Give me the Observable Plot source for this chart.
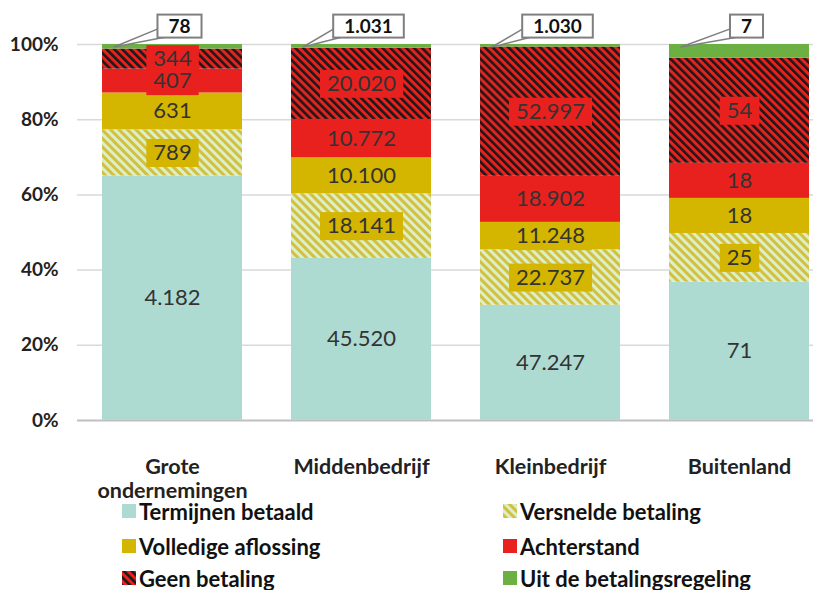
<!DOCTYPE html>
<html><head><meta charset="utf-8">
<script src="https://cdn.jsdelivr.net/npm/d3@7"></script>
<script src="https://cdn.jsdelivr.net/npm/@observablehq/plot@0.6"></script>
<style>
body{margin:0;background:#fff;font-family:Lato,"Open Sans",sans-serif;}
#wrap{position:relative;width:813px;height:590px;overflow:hidden;background:#fff}
.li{position:absolute;display:flex;align-items:center;font-weight:bold;font-size:22px;color:#111;white-space:nowrap;height:30px}
.li svg{margin-right:3px}
</style></head><body>
<svg width="0" height="0" style="position:absolute">
  <defs>
    <pattern id="patGeen" width="5.6" height="5.6" patternUnits="userSpaceOnUse" patternTransform="rotate(-45)">
      <rect width="5.6" height="5.6" fill="#e8211e"></rect>
      <rect width="2.6" height="5.6" fill="#1a1a1a"></rect>
    </pattern>
    <pattern id="patVers" width="6" height="6" patternUnits="userSpaceOnUse" patternTransform="rotate(-45)">
      <rect width="6" height="6" fill="#d3c040"></rect>
      <rect width="3" height="6" fill="#dcefc6"></rect>
    </pattern>
  </defs>
</svg>
<div id="wrap"></div>
<script>
const categories = ["Grote ondernemingen", "Middenbedrijf", "Kleinbedrijf", "Buitenland"];
const series = ["Termijnen betaald", "Versnelde betaling", "Volledige aflossing", "Achterstand", "Geen betaling", "Uit de betalingsregeling"];
const termijnen   = [4182, 45520, 47247, 71];
const versnelde   = [789, 18141, 22737, 25];
const volledige   = [631, 10100, 11248, 18];
const achterstand = [407, 10772, 18902, 18];
const geen        = [344, 20020, 52997, 54];
const uit         = [78, 1031, 1030, 7];
const yTicks = [0, 0.2, 0.4, 0.6, 0.8, 1];

const seriesValues = [termijnen, versnelde, volledige, achterstand, geen, uit];
const fills = ["#aedbd1", "url(#patVers)", "#d4b500", "#e8211e", "url(#patGeen)", "#6cb043"];
const boxFills = ["#aedbd1", "#d4b500", "#d4b500", "#e8211e", "#e8211e", "#6cb043"];

const data = [];
categories.forEach((c, ci) => series.forEach((s, si) => data.push({cat: c, series: s, value: seriesValues[si][ci]})));

const nl = d3.formatLocale({decimal: ",", thousands: ".", grouping: [3], currency: ["€", ""]});
const fmt = nl.format(",d");
const UIT = series[5];

const plot = Plot.plot({
  width: 813, height: 500,
  marginTop: 44, marginBottom: 80, marginLeft: 77, marginRight: 0,
  style: {fontFamily: "Lato, 'Open Sans', sans-serif", background: "#fff", overflow: "visible"},
  x: {type: "band", domain: categories, paddingInner: 0.26, paddingOuter: 0.077, align: 0.86},
  y: {domain: [0, 1]},
  color: {type: "ordinal", domain: series, range: fills},
  marks: [
    Plot.gridY(yTicks.slice(1), {stroke: "#d9d9d9", strokeOpacity: 1, strokeWidth: 1.5}),
    Plot.ruleY([0], {stroke: "#bfbfbf", strokeWidth: 2}),
    Plot.barY(data, Plot.stackY({x: "cat", y: "value", z: "series", fill: "series", offset: "normalize", order: series})),
    Plot.text(data, Plot.stackY({x: "cat", y: "value", z: "series", offset: "normalize", order: series,
      text: d => d.series === UIT ? null : fmt(d.value), fill: "#333", fontSize: 22, className: "seglabel"})),
    Plot.text(data, Plot.stackY2({x: "cat", y: "value", z: "series", offset: "normalize", order: series,
      text: d => d.series === UIT ? fmt(d.value) : null, fill: "#111", fontSize: 19, fontWeight: "bold",
      dx: 7, dy: -18, className: "callout"})),
    Plot.axisY({ticks: yTicks, tickFormat: d3.format(".0%"), tickSize: 0, tickPadding: 19, fontSize: 19, fontWeight: "bold", fill: "#222", label: null}),
    Plot.axisX({tickSize: 0, tickPadding: 37, fontSize: 21.5, fontWeight: "bold", fill: "#222", lineHeight: 1.1,
      tickFormat: d => d === "Grote ondernemingen" ? "Grote\nondernemingen" : d, label: null})
  ]
});
document.getElementById("wrap").appendChild(plot);

const ns = "http://www.w3.org/2000/svg";
// label boxes (drawn right before each label so later labels overlap earlier ones)
plot.querySelectorAll("g.seglabel text").forEach(t => {
  const d = data[t.__data__];
  const bb = t.getBBox();
  const r = document.createElementNS(ns, "rect");
  if (t.getAttribute("transform")) r.setAttribute("transform", t.getAttribute("transform"));
  r.setAttribute("x", bb.x - 7); r.setAttribute("y", bb.y + 1);
  r.setAttribute("width", bb.width + 14); r.setAttribute("height", bb.height + 1);
  r.setAttribute("fill", boxFills[series.indexOf(d.series)]);
  t.parentNode.insertBefore(r, t);
});
// callouts: box + pointer, in global svg coordinates
const xs = plot.scale("x"), ys = plot.scale("y");
const svgRect = plot.getBoundingClientRect();
const calloutG = plot.querySelector("g.callout");
const under = document.createElementNS(ns, "g");
calloutG.parentNode.insertBefore(under, calloutG);
calloutG.querySelectorAll("text").forEach(t => {
  const d = data[t.__data__];
  const b = t.getBoundingClientRect();
  const L = b.left - svgRect.left - 11, T = b.top - svgRect.top + 1, W = b.width + 22, H = b.height;
  const tx = xs.apply(d.cat) + 12, ty = ys.apply(1) + 3;
  const p = document.createElementNS(ns, "polygon");
  p.setAttribute("points", `${L + 1},${T + H - 9} ${tx},${ty} ${L + 11},${T + H - 1}`);
  p.setAttribute("fill", "#fff"); p.setAttribute("stroke", "#7f7f7f"); p.setAttribute("stroke-width", 1.5);
  p.setAttribute("stroke-linejoin", "round");
  const r = document.createElementNS(ns, "rect");
  r.setAttribute("x", L); r.setAttribute("y", T); r.setAttribute("width", W); r.setAttribute("height", H);
  r.setAttribute("fill", "#fff"); r.setAttribute("stroke", "#7f7f7f"); r.setAttribute("stroke-width", 2);
  under.appendChild(p);
  under.appendChild(r);
});

// legend
const wrap = document.getElementById("wrap");
const legendPos = [[122, 496], [503, 496], [122, 531], [503, 531], [122, 563], [503, 563]];
series.forEach((s, i) => {
  const el = document.createElement("div");
  el.className = "li";
  el.style.left = legendPos[i][0] + "px";
  el.style.top = legendPos[i][1] + "px";
  el.innerHTML = `<svg width="14" height="14"><rect width="14" height="14" fill="${fills[i]}"></rect></svg><span>${s}</span>`;
  wrap.appendChild(el);
});
</script>
</body></html>
